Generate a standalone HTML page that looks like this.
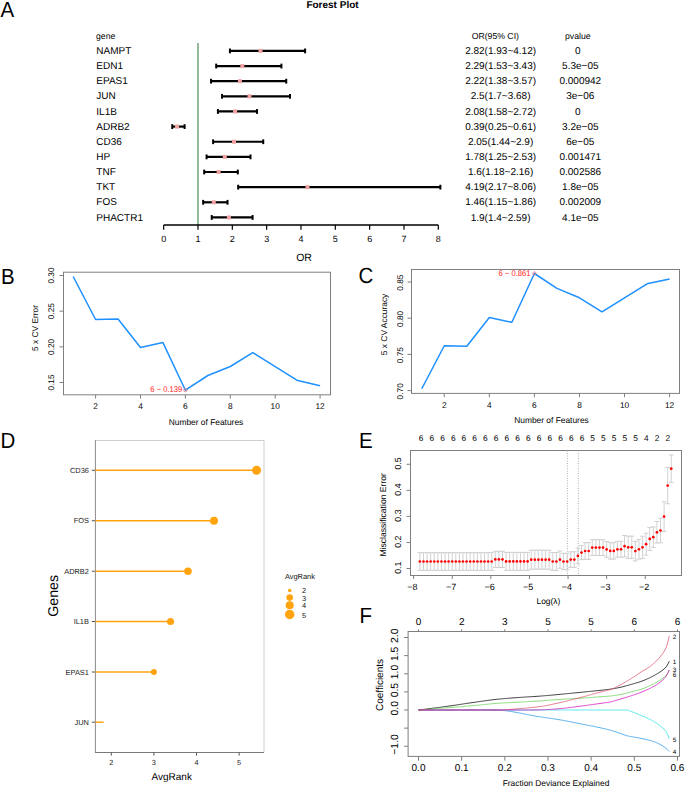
<!DOCTYPE html>
<html><head><meta charset="utf-8"><title>Figure</title>
<style>
html,body{margin:0;padding:0;background:#fff;}
body{width:685px;height:789px;overflow:hidden;}
svg{display:block;font-family:"Liberation Sans", sans-serif;text-rendering:geometricPrecision;}
</style></head>
<body>
<svg width="685" height="789" viewBox="0 0 685 789">
<rect width="685" height="789" fill="#fff"/>
<text transform="translate(0.50 16.90) scale(1 1.07)" font-size="20.5" text-anchor="start" fill="#000">A</text>
<text transform="translate(1.00 283.70) scale(1 1.07)" font-size="20.5" text-anchor="start" fill="#000">B</text>
<text transform="translate(358.50 283.40) scale(1 1.07)" font-size="20.5" text-anchor="start" fill="#000">C</text>
<text transform="translate(0.50 448.00) scale(1 1.07)" font-size="20.5" text-anchor="start" fill="#000">D</text>
<text transform="translate(359.00 447.70) scale(1 1.07)" font-size="20.5" text-anchor="start" fill="#000">E</text>
<text transform="translate(359.50 622.80) scale(1 1.07)" font-size="20.5" text-anchor="start" fill="#000">F</text>
<text x="332.50" y="8.30" font-size="10" text-anchor="middle" fill="#000" font-weight="bold">Forest Plot</text>
<text x="96.00" y="39.30" font-size="8.7" text-anchor="start" fill="#000">gene</text>
<text x="495.30" y="39.30" font-size="8.7" text-anchor="middle" fill="#000">OR(95% CI)</text>
<text x="577.80" y="39.30" font-size="8.7" text-anchor="middle" fill="#000">pvalue</text>
<line x1="198.00" y1="43.00" x2="198.00" y2="225.00" stroke="#80b08a" stroke-width="1.7"/>
<text x="96.30" y="54.00" font-size="10" text-anchor="start" fill="#000">NAMPT</text>
<text x="500.60" y="54.00" font-size="10" text-anchor="middle" fill="#000">2.82(1.93~4.12)</text>
<text x="577.70" y="54.00" font-size="10" text-anchor="middle" fill="#000">0</text>
<line x1="229.93" y1="50.90" x2="305.11" y2="50.90" stroke="#000" stroke-width="2.2"/>
<line x1="229.93" y1="48.50" x2="229.93" y2="53.30" stroke="#000" stroke-width="2.0"/>
<line x1="305.11" y1="48.50" x2="305.11" y2="53.30" stroke="#000" stroke-width="2.0"/>
<rect x="258.48" y="48.90" width="4" height="4" fill="#f0a3a3"/>
<text x="96.30" y="69.14" font-size="10" text-anchor="start" fill="#000">EDN1</text>
<text x="500.60" y="69.14" font-size="10" text-anchor="middle" fill="#000">2.29(1.53~3.43)</text>
<text x="580.30" y="69.14" font-size="10" text-anchor="middle" fill="#000">5.3e−05</text>
<line x1="216.19" y1="66.04" x2="281.42" y2="66.04" stroke="#000" stroke-width="2.2"/>
<line x1="216.19" y1="63.64" x2="216.19" y2="68.44" stroke="#000" stroke-width="2.0"/>
<line x1="281.42" y1="63.64" x2="281.42" y2="68.44" stroke="#000" stroke-width="2.0"/>
<rect x="240.29" y="64.04" width="4" height="4" fill="#f0a3a3"/>
<text x="96.30" y="84.28" font-size="10" text-anchor="start" fill="#000">EPAS1</text>
<text x="500.60" y="84.28" font-size="10" text-anchor="middle" fill="#000">2.22(1.38~3.57)</text>
<text x="580.30" y="84.28" font-size="10" text-anchor="middle" fill="#000">0.000942</text>
<line x1="211.05" y1="81.18" x2="286.23" y2="81.18" stroke="#000" stroke-width="2.2"/>
<line x1="211.05" y1="78.78" x2="211.05" y2="83.58" stroke="#000" stroke-width="2.0"/>
<line x1="286.23" y1="78.78" x2="286.23" y2="83.58" stroke="#000" stroke-width="2.0"/>
<rect x="237.88" y="79.18" width="4" height="4" fill="#f0a3a3"/>
<text x="96.30" y="99.42" font-size="10" text-anchor="start" fill="#000">JUN</text>
<text x="500.60" y="99.42" font-size="10" text-anchor="middle" fill="#000">2.5(1.7~3.68)</text>
<text x="580.30" y="99.42" font-size="10" text-anchor="middle" fill="#000">3e−06</text>
<line x1="222.03" y1="96.32" x2="290.00" y2="96.32" stroke="#000" stroke-width="2.2"/>
<line x1="222.03" y1="93.92" x2="222.03" y2="98.72" stroke="#000" stroke-width="2.0"/>
<line x1="290.00" y1="93.92" x2="290.00" y2="98.72" stroke="#000" stroke-width="2.0"/>
<rect x="247.50" y="94.32" width="4" height="4" fill="#f0a3a3"/>
<text x="96.30" y="114.56" font-size="10" text-anchor="start" fill="#000">IL1B</text>
<text x="500.60" y="114.56" font-size="10" text-anchor="middle" fill="#000">2.08(1.58~2.72)</text>
<text x="577.70" y="114.56" font-size="10" text-anchor="middle" fill="#000">0</text>
<line x1="217.91" y1="111.46" x2="257.05" y2="111.46" stroke="#000" stroke-width="2.2"/>
<line x1="217.91" y1="109.06" x2="217.91" y2="113.86" stroke="#000" stroke-width="2.0"/>
<line x1="257.05" y1="109.06" x2="257.05" y2="113.86" stroke="#000" stroke-width="2.0"/>
<rect x="233.08" y="109.46" width="4" height="4" fill="#f0a3a3"/>
<text x="96.30" y="129.70" font-size="10" text-anchor="start" fill="#000">ADRB2</text>
<text x="500.60" y="129.70" font-size="10" text-anchor="middle" fill="#000">0.39(0.25~0.61)</text>
<text x="580.30" y="129.70" font-size="10" text-anchor="middle" fill="#000">3.2e−05</text>
<line x1="172.25" y1="126.60" x2="184.61" y2="126.60" stroke="#000" stroke-width="2.2"/>
<line x1="172.25" y1="124.20" x2="172.25" y2="129.00" stroke="#000" stroke-width="2.0"/>
<line x1="184.61" y1="124.20" x2="184.61" y2="129.00" stroke="#000" stroke-width="2.0"/>
<rect x="175.06" y="124.60" width="4" height="4" fill="#f0a3a3"/>
<text x="96.30" y="144.84" font-size="10" text-anchor="start" fill="#000">CD36</text>
<text x="500.60" y="144.84" font-size="10" text-anchor="middle" fill="#000">2.05(1.44~2.9)</text>
<text x="580.30" y="144.84" font-size="10" text-anchor="middle" fill="#000">6e−05</text>
<line x1="213.11" y1="141.74" x2="263.23" y2="141.74" stroke="#000" stroke-width="2.2"/>
<line x1="213.11" y1="139.34" x2="213.11" y2="144.14" stroke="#000" stroke-width="2.0"/>
<line x1="263.23" y1="139.34" x2="263.23" y2="144.14" stroke="#000" stroke-width="2.0"/>
<rect x="232.05" y="139.74" width="4" height="4" fill="#f0a3a3"/>
<text x="96.30" y="159.98" font-size="10" text-anchor="start" fill="#000">HP</text>
<text x="500.60" y="159.98" font-size="10" text-anchor="middle" fill="#000">1.78(1.25~2.53)</text>
<text x="580.30" y="159.98" font-size="10" text-anchor="middle" fill="#000">0.001471</text>
<line x1="206.58" y1="156.88" x2="250.52" y2="156.88" stroke="#000" stroke-width="2.2"/>
<line x1="206.58" y1="154.48" x2="206.58" y2="159.28" stroke="#000" stroke-width="2.0"/>
<line x1="250.52" y1="154.48" x2="250.52" y2="159.28" stroke="#000" stroke-width="2.0"/>
<rect x="222.78" y="154.88" width="4" height="4" fill="#f0a3a3"/>
<text x="96.30" y="175.12" font-size="10" text-anchor="start" fill="#000">TNF</text>
<text x="500.60" y="175.12" font-size="10" text-anchor="middle" fill="#000">1.6(1.18~2.16)</text>
<text x="580.30" y="175.12" font-size="10" text-anchor="middle" fill="#000">0.002586</text>
<line x1="204.18" y1="172.02" x2="237.82" y2="172.02" stroke="#000" stroke-width="2.2"/>
<line x1="204.18" y1="169.62" x2="204.18" y2="174.42" stroke="#000" stroke-width="2.0"/>
<line x1="237.82" y1="169.62" x2="237.82" y2="174.42" stroke="#000" stroke-width="2.0"/>
<rect x="216.60" y="170.02" width="4" height="4" fill="#f0a3a3"/>
<text x="96.30" y="190.26" font-size="10" text-anchor="start" fill="#000">TKT</text>
<text x="500.60" y="190.26" font-size="10" text-anchor="middle" fill="#000">4.19(2.17~8.06)</text>
<text x="580.30" y="190.26" font-size="10" text-anchor="middle" fill="#000">1.8e−05</text>
<line x1="238.17" y1="187.16" x2="440.37" y2="187.16" stroke="#000" stroke-width="2.2"/>
<line x1="238.17" y1="184.76" x2="238.17" y2="189.56" stroke="#000" stroke-width="2.0"/>
<line x1="440.37" y1="184.76" x2="440.37" y2="189.56" stroke="#000" stroke-width="2.0"/>
<rect x="305.51" y="185.16" width="4" height="4" fill="#f0a3a3"/>
<text x="96.30" y="205.40" font-size="10" text-anchor="start" fill="#000">FOS</text>
<text x="500.60" y="205.40" font-size="10" text-anchor="middle" fill="#000">1.46(1.15~1.86)</text>
<text x="580.30" y="205.40" font-size="10" text-anchor="middle" fill="#000">0.002009</text>
<line x1="203.15" y1="202.30" x2="227.52" y2="202.30" stroke="#000" stroke-width="2.2"/>
<line x1="203.15" y1="199.90" x2="203.15" y2="204.70" stroke="#000" stroke-width="2.0"/>
<line x1="227.52" y1="199.90" x2="227.52" y2="204.70" stroke="#000" stroke-width="2.0"/>
<rect x="211.79" y="200.30" width="4" height="4" fill="#f0a3a3"/>
<text x="96.30" y="220.54" font-size="10" text-anchor="start" fill="#000">PHACTR1</text>
<text x="500.60" y="220.54" font-size="10" text-anchor="middle" fill="#000">1.9(1.4~2.59)</text>
<text x="580.30" y="220.54" font-size="10" text-anchor="middle" fill="#000">4.1e−05</text>
<line x1="211.73" y1="217.44" x2="252.58" y2="217.44" stroke="#000" stroke-width="2.2"/>
<line x1="211.73" y1="215.04" x2="211.73" y2="219.84" stroke="#000" stroke-width="2.0"/>
<line x1="252.58" y1="215.04" x2="252.58" y2="219.84" stroke="#000" stroke-width="2.0"/>
<rect x="226.90" y="215.44" width="4" height="4" fill="#f0a3a3"/>
<line x1="163.67" y1="225.00" x2="438.31" y2="225.00" stroke="#000" stroke-width="1.3"/>
<line x1="163.67" y1="225.00" x2="163.67" y2="229.80" stroke="#000" stroke-width="1.2"/>
<text x="163.67" y="242.20" font-size="9" text-anchor="middle" fill="#000">0</text>
<line x1="198.00" y1="225.00" x2="198.00" y2="229.80" stroke="#000" stroke-width="1.2"/>
<text x="198.00" y="242.20" font-size="9" text-anchor="middle" fill="#000">1</text>
<line x1="232.33" y1="225.00" x2="232.33" y2="229.80" stroke="#000" stroke-width="1.2"/>
<text x="232.33" y="242.20" font-size="9" text-anchor="middle" fill="#000">2</text>
<line x1="266.66" y1="225.00" x2="266.66" y2="229.80" stroke="#000" stroke-width="1.2"/>
<text x="266.66" y="242.20" font-size="9" text-anchor="middle" fill="#000">3</text>
<line x1="300.99" y1="225.00" x2="300.99" y2="229.80" stroke="#000" stroke-width="1.2"/>
<text x="300.99" y="242.20" font-size="9" text-anchor="middle" fill="#000">4</text>
<line x1="335.32" y1="225.00" x2="335.32" y2="229.80" stroke="#000" stroke-width="1.2"/>
<text x="335.32" y="242.20" font-size="9" text-anchor="middle" fill="#000">5</text>
<line x1="369.65" y1="225.00" x2="369.65" y2="229.80" stroke="#000" stroke-width="1.2"/>
<text x="369.65" y="242.20" font-size="9" text-anchor="middle" fill="#000">6</text>
<line x1="403.98" y1="225.00" x2="403.98" y2="229.80" stroke="#000" stroke-width="1.2"/>
<text x="403.98" y="242.20" font-size="9" text-anchor="middle" fill="#000">7</text>
<line x1="438.31" y1="225.00" x2="438.31" y2="229.80" stroke="#000" stroke-width="1.2"/>
<text x="438.31" y="242.20" font-size="9" text-anchor="middle" fill="#000">8</text>
<text x="304.00" y="261.30" font-size="10.5" text-anchor="middle" fill="#000">OR</text>
<rect x="63.50" y="272.20" width="267.00" height="122.60" fill="none" stroke="#7f7f7f" stroke-width="1"/>
<line x1="59.50" y1="275.50" x2="63.50" y2="275.50" stroke="#7f7f7f" stroke-width="1"/>
<text x="54.30" y="275.50" font-size="8.3" text-anchor="middle" fill="#000" transform="rotate(-90 54.30 275.50)">0.30</text>
<line x1="59.50" y1="311.17" x2="63.50" y2="311.17" stroke="#7f7f7f" stroke-width="1"/>
<text x="54.30" y="311.17" font-size="8.3" text-anchor="middle" fill="#000" transform="rotate(-90 54.30 311.17)">0.25</text>
<line x1="59.50" y1="346.84" x2="63.50" y2="346.84" stroke="#7f7f7f" stroke-width="1"/>
<text x="54.30" y="346.84" font-size="8.3" text-anchor="middle" fill="#000" transform="rotate(-90 54.30 346.84)">0.20</text>
<line x1="59.50" y1="382.51" x2="63.50" y2="382.51" stroke="#7f7f7f" stroke-width="1"/>
<text x="54.30" y="382.51" font-size="8.3" text-anchor="middle" fill="#000" transform="rotate(-90 54.30 382.51)">0.15</text>
<line x1="95.60" y1="394.80" x2="95.60" y2="398.60" stroke="#7f7f7f" stroke-width="1"/>
<text x="95.60" y="409.20" font-size="8.3" text-anchor="middle" fill="#000">2</text>
<line x1="140.50" y1="394.80" x2="140.50" y2="398.60" stroke="#7f7f7f" stroke-width="1"/>
<text x="140.50" y="409.20" font-size="8.3" text-anchor="middle" fill="#000">4</text>
<line x1="185.40" y1="394.80" x2="185.40" y2="398.60" stroke="#7f7f7f" stroke-width="1"/>
<text x="185.40" y="409.20" font-size="8.3" text-anchor="middle" fill="#000">6</text>
<line x1="230.30" y1="394.80" x2="230.30" y2="398.60" stroke="#7f7f7f" stroke-width="1"/>
<text x="230.30" y="409.20" font-size="8.3" text-anchor="middle" fill="#000">8</text>
<line x1="275.20" y1="394.80" x2="275.20" y2="398.60" stroke="#7f7f7f" stroke-width="1"/>
<text x="275.20" y="409.20" font-size="8.3" text-anchor="middle" fill="#000">10</text>
<line x1="320.10" y1="394.80" x2="320.10" y2="398.60" stroke="#7f7f7f" stroke-width="1"/>
<text x="320.10" y="409.20" font-size="8.3" text-anchor="middle" fill="#000">12</text>
<text x="38.20" y="328.00" font-size="8.4" text-anchor="middle" fill="#000" transform="rotate(-90 38.20 328.00)">5 x CV Error</text>
<text x="206.00" y="425.20" font-size="8.4" text-anchor="middle" fill="#000">Number of Features</text>
<polyline points="73.15,276.50 95.60,319.50 118.05,319.00 140.50,347.50 162.95,342.60 185.40,390.20 207.85,375.50 230.30,366.50 252.75,352.70 275.20,366.60 297.65,380.60 320.10,385.70" fill="none" stroke="#1E90FF" stroke-width="1.5" stroke-linejoin="round"/>
<circle cx="185.40" cy="390.2" r="1.6" fill="none" stroke="#f07070" stroke-width="0.8"/>
<text transform="translate(182.20 392.30) scale(1 1.1)" font-size="7.6" text-anchor="end" fill="#ff2020">6 − 0.139</text>
<rect x="411.50" y="269.50" width="268.00" height="123.90" fill="none" stroke="#7f7f7f" stroke-width="1"/>
<line x1="407.50" y1="282.00" x2="411.50" y2="282.00" stroke="#7f7f7f" stroke-width="1"/>
<text x="402.80" y="282.70" font-size="8.3" text-anchor="middle" fill="#000" transform="rotate(-90 402.80 282.70)">0.85</text>
<line x1="407.50" y1="318.20" x2="411.50" y2="318.20" stroke="#7f7f7f" stroke-width="1"/>
<text x="402.80" y="318.90" font-size="8.3" text-anchor="middle" fill="#000" transform="rotate(-90 402.80 318.90)">0.80</text>
<line x1="407.50" y1="354.40" x2="411.50" y2="354.40" stroke="#7f7f7f" stroke-width="1"/>
<text x="402.80" y="355.10" font-size="8.3" text-anchor="middle" fill="#000" transform="rotate(-90 402.80 355.10)">0.75</text>
<line x1="407.50" y1="390.60" x2="411.50" y2="390.60" stroke="#7f7f7f" stroke-width="1"/>
<text x="402.80" y="391.30" font-size="8.3" text-anchor="middle" fill="#000" transform="rotate(-90 402.80 391.30)">0.70</text>
<line x1="444.28" y1="393.40" x2="444.28" y2="397.20" stroke="#7f7f7f" stroke-width="1"/>
<text x="444.28" y="408.00" font-size="8.3" text-anchor="middle" fill="#000">2</text>
<line x1="489.34" y1="393.40" x2="489.34" y2="397.20" stroke="#7f7f7f" stroke-width="1"/>
<text x="489.34" y="408.00" font-size="8.3" text-anchor="middle" fill="#000">4</text>
<line x1="534.40" y1="393.40" x2="534.40" y2="397.20" stroke="#7f7f7f" stroke-width="1"/>
<text x="534.40" y="408.00" font-size="8.3" text-anchor="middle" fill="#000">6</text>
<line x1="579.46" y1="393.40" x2="579.46" y2="397.20" stroke="#7f7f7f" stroke-width="1"/>
<text x="579.46" y="408.00" font-size="8.3" text-anchor="middle" fill="#000">8</text>
<line x1="624.52" y1="393.40" x2="624.52" y2="397.20" stroke="#7f7f7f" stroke-width="1"/>
<text x="624.52" y="408.00" font-size="8.3" text-anchor="middle" fill="#000">10</text>
<line x1="669.58" y1="393.40" x2="669.58" y2="397.20" stroke="#7f7f7f" stroke-width="1"/>
<text x="669.58" y="408.00" font-size="8.3" text-anchor="middle" fill="#000">12</text>
<text x="387.40" y="324.40" font-size="8.4" text-anchor="middle" fill="#000" transform="rotate(-90 387.40 324.40)">5 x CV Accuracy</text>
<text x="551.50" y="423.40" font-size="8.4" text-anchor="middle" fill="#000">Number of Features</text>
<polyline points="421.75,388.75 444.28,345.75 466.81,346.25 489.34,317.50 511.87,322.30 534.40,273.50 556.93,288.40 579.46,297.80 601.99,311.80 624.52,297.80 647.05,283.80 669.58,278.90" fill="none" stroke="#1E90FF" stroke-width="1.5" stroke-linejoin="round"/>
<circle cx="534.40" cy="273.5" r="1.6" fill="none" stroke="#f07070" stroke-width="0.8"/>
<text transform="translate(530.50 276.30) scale(1 1.1)" font-size="7.6" text-anchor="end" fill="#ff2020">6 − 0.861</text>
<line x1="95.40" y1="440.50" x2="264.00" y2="440.50" stroke="#cfcfcf" stroke-width="1"/>
<line x1="264.00" y1="440.50" x2="264.00" y2="752.50" stroke="#d0d0d0" stroke-width="1"/>
<line x1="95.40" y1="440.00" x2="95.40" y2="752.50" stroke="#8a8a8a" stroke-width="1"/>
<line x1="95.00" y1="752.50" x2="264.00" y2="752.50" stroke="#7a7a7a" stroke-width="1"/>
<line x1="91.80" y1="470.25" x2="95.40" y2="470.25" stroke="#555" stroke-width="1"/>
<text x="88.90" y="472.85" font-size="7.4" text-anchor="end" fill="#222">CD36</text>
<line x1="95.40" y1="470.25" x2="256.57" y2="470.25" stroke="#ffa40f" stroke-width="1.5"/>
<circle cx="256.57" cy="470.25" r="4.5" fill="#ffa40f"/>
<line x1="91.80" y1="520.75" x2="95.40" y2="520.75" stroke="#555" stroke-width="1"/>
<text x="88.90" y="523.35" font-size="7.4" text-anchor="end" fill="#222">FOS</text>
<line x1="95.40" y1="520.75" x2="213.97" y2="520.75" stroke="#ffa40f" stroke-width="1.5"/>
<circle cx="213.97" cy="520.75" r="4.0" fill="#ffa40f"/>
<line x1="91.80" y1="571.25" x2="95.40" y2="571.25" stroke="#555" stroke-width="1"/>
<text x="88.90" y="573.85" font-size="7.4" text-anchor="end" fill="#222">ADRB2</text>
<line x1="95.40" y1="571.25" x2="187.98" y2="571.25" stroke="#ffa40f" stroke-width="1.5"/>
<circle cx="187.98" cy="571.25" r="3.75" fill="#ffa40f"/>
<line x1="91.80" y1="621.50" x2="95.40" y2="621.50" stroke="#555" stroke-width="1"/>
<text x="88.90" y="624.10" font-size="7.4" text-anchor="end" fill="#222">IL1B</text>
<line x1="95.40" y1="621.50" x2="170.51" y2="621.50" stroke="#ffa40f" stroke-width="1.5"/>
<circle cx="170.51" cy="621.50" r="3.55" fill="#ffa40f"/>
<line x1="91.80" y1="672.00" x2="95.40" y2="672.00" stroke="#555" stroke-width="1"/>
<text x="88.90" y="674.60" font-size="7.4" text-anchor="end" fill="#222">EPAS1</text>
<line x1="95.40" y1="672.00" x2="153.90" y2="672.00" stroke="#ffa40f" stroke-width="1.5"/>
<circle cx="153.90" cy="672.00" r="3.0" fill="#ffa40f"/>
<line x1="91.80" y1="722.20" x2="95.40" y2="722.20" stroke="#555" stroke-width="1"/>
<text x="88.90" y="724.80" font-size="7.4" text-anchor="end" fill="#222">JUN</text>
<line x1="95.40" y1="722.20" x2="103.63" y2="722.20" stroke="#ffa40f" stroke-width="1.5"/>
<line x1="111.30" y1="752.50" x2="111.30" y2="755.60" stroke="#555" stroke-width="1"/>
<text x="111.30" y="765.30" font-size="7.4" text-anchor="middle" fill="#222">2</text>
<line x1="153.90" y1="752.50" x2="153.90" y2="755.60" stroke="#555" stroke-width="1"/>
<text x="153.90" y="765.30" font-size="7.4" text-anchor="middle" fill="#222">3</text>
<line x1="196.50" y1="752.50" x2="196.50" y2="755.60" stroke="#555" stroke-width="1"/>
<text x="196.50" y="765.30" font-size="7.4" text-anchor="middle" fill="#222">4</text>
<line x1="239.10" y1="752.50" x2="239.10" y2="755.60" stroke="#555" stroke-width="1"/>
<text x="239.10" y="765.30" font-size="7.4" text-anchor="middle" fill="#222">5</text>
<text x="171.70" y="779.90" font-size="10" text-anchor="middle" fill="#000">AvgRank</text>
<text x="57.80" y="595.80" font-size="14.2" text-anchor="middle" fill="#000" transform="rotate(-90 57.80 595.80)">Genes</text>
<text x="284.90" y="579.00" font-size="7.45" text-anchor="start" fill="#111">AvgRank</text>
<circle cx="289.7" cy="590.4" r="1.75" fill="#ffa40f"/>
<text x="302.00" y="593.00" font-size="7.4" text-anchor="start" fill="#111">2</text>
<circle cx="289.7" cy="597.6" r="3.3" fill="#ffa40f"/>
<text x="302.00" y="600.50" font-size="7.4" text-anchor="start" fill="#111">3</text>
<circle cx="289.7" cy="605.3" r="4.03" fill="#ffa40f"/>
<text x="302.00" y="607.90" font-size="7.4" text-anchor="start" fill="#111">4</text>
<circle cx="289.7" cy="614.5" r="4.73" fill="#ffa40f"/>
<text x="302.00" y="617.60" font-size="7.4" text-anchor="start" fill="#111">5</text>
<rect x="410.50" y="450.50" width="271.00" height="125.00" fill="none" stroke="#7f7f7f" stroke-width="1"/>
<line x1="406.50" y1="568.50" x2="410.50" y2="568.50" stroke="#7f7f7f" stroke-width="1"/>
<text x="401.40" y="567.70" font-size="8.8" text-anchor="middle" fill="#000" transform="rotate(-90 401.40 567.70)">0.1</text>
<line x1="406.50" y1="542.44" x2="410.50" y2="542.44" stroke="#7f7f7f" stroke-width="1"/>
<text x="401.40" y="541.64" font-size="8.8" text-anchor="middle" fill="#000" transform="rotate(-90 401.40 541.64)">0.2</text>
<line x1="406.50" y1="516.38" x2="410.50" y2="516.38" stroke="#7f7f7f" stroke-width="1"/>
<text x="401.40" y="515.58" font-size="8.8" text-anchor="middle" fill="#000" transform="rotate(-90 401.40 515.58)">0.3</text>
<line x1="406.50" y1="490.32" x2="410.50" y2="490.32" stroke="#7f7f7f" stroke-width="1"/>
<text x="401.40" y="489.52" font-size="8.8" text-anchor="middle" fill="#000" transform="rotate(-90 401.40 489.52)">0.4</text>
<line x1="406.50" y1="464.26" x2="410.50" y2="464.26" stroke="#7f7f7f" stroke-width="1"/>
<text x="401.40" y="463.46" font-size="8.8" text-anchor="middle" fill="#000" transform="rotate(-90 401.40 463.46)">0.5</text>
<line x1="413.65" y1="575.50" x2="413.65" y2="579.00" stroke="#7f7f7f" stroke-width="1"/>
<text x="412.45" y="589.70" font-size="9.0" text-anchor="middle" fill="#000">−8</text>
<line x1="452.25" y1="575.50" x2="452.25" y2="579.00" stroke="#7f7f7f" stroke-width="1"/>
<text x="451.05" y="589.70" font-size="9.0" text-anchor="middle" fill="#000">−7</text>
<line x1="490.85" y1="575.50" x2="490.85" y2="579.00" stroke="#7f7f7f" stroke-width="1"/>
<text x="489.65" y="589.70" font-size="9.0" text-anchor="middle" fill="#000">−6</text>
<line x1="529.45" y1="575.50" x2="529.45" y2="579.00" stroke="#7f7f7f" stroke-width="1"/>
<text x="528.25" y="589.70" font-size="9.0" text-anchor="middle" fill="#000">−5</text>
<line x1="568.05" y1="575.50" x2="568.05" y2="579.00" stroke="#7f7f7f" stroke-width="1"/>
<text x="566.85" y="589.70" font-size="9.0" text-anchor="middle" fill="#000">−4</text>
<line x1="606.65" y1="575.50" x2="606.65" y2="579.00" stroke="#7f7f7f" stroke-width="1"/>
<text x="605.45" y="589.70" font-size="9.0" text-anchor="middle" fill="#000">−3</text>
<line x1="645.25" y1="575.50" x2="645.25" y2="579.00" stroke="#7f7f7f" stroke-width="1"/>
<text x="644.05" y="589.70" font-size="9.0" text-anchor="middle" fill="#000">−2</text>
<text x="385.60" y="514.80" font-size="8.6" text-anchor="middle" fill="#000" transform="rotate(-90 385.60 514.80)">Misclassification Error</text>
<text x="548.40" y="604.40" font-size="8.4" text-anchor="middle" fill="#000">Log(λ)</text>
<text x="421.00" y="441.30" font-size="8.3" text-anchor="middle" fill="#000">6</text>
<text x="431.73" y="441.30" font-size="8.3" text-anchor="middle" fill="#000">6</text>
<text x="442.46" y="441.30" font-size="8.3" text-anchor="middle" fill="#000">6</text>
<text x="453.19" y="441.30" font-size="8.3" text-anchor="middle" fill="#000">6</text>
<text x="463.92" y="441.30" font-size="8.3" text-anchor="middle" fill="#000">6</text>
<text x="474.65" y="441.30" font-size="8.3" text-anchor="middle" fill="#000">6</text>
<text x="485.38" y="441.30" font-size="8.3" text-anchor="middle" fill="#000">6</text>
<text x="496.11" y="441.30" font-size="8.3" text-anchor="middle" fill="#000">6</text>
<text x="506.84" y="441.30" font-size="8.3" text-anchor="middle" fill="#000">6</text>
<text x="517.57" y="441.30" font-size="8.3" text-anchor="middle" fill="#000">6</text>
<text x="528.30" y="441.30" font-size="8.3" text-anchor="middle" fill="#000">6</text>
<text x="539.03" y="441.30" font-size="8.3" text-anchor="middle" fill="#000">6</text>
<text x="549.76" y="441.30" font-size="8.3" text-anchor="middle" fill="#000">6</text>
<text x="560.49" y="441.30" font-size="8.3" text-anchor="middle" fill="#000">6</text>
<text x="571.22" y="441.30" font-size="8.3" text-anchor="middle" fill="#000">6</text>
<text x="581.95" y="441.30" font-size="8.3" text-anchor="middle" fill="#000">6</text>
<text x="592.68" y="441.30" font-size="8.3" text-anchor="middle" fill="#000">5</text>
<text x="603.41" y="441.30" font-size="8.3" text-anchor="middle" fill="#000">5</text>
<text x="614.14" y="441.30" font-size="8.3" text-anchor="middle" fill="#000">5</text>
<text x="624.87" y="441.30" font-size="8.3" text-anchor="middle" fill="#000">5</text>
<text x="635.60" y="441.30" font-size="8.3" text-anchor="middle" fill="#000">5</text>
<text x="646.33" y="441.30" font-size="8.3" text-anchor="middle" fill="#000">4</text>
<text x="657.06" y="441.30" font-size="8.3" text-anchor="middle" fill="#000">2</text>
<text x="667.79" y="441.30" font-size="8.3" text-anchor="middle" fill="#000">2</text>
<line x1="567.40" y1="450.50" x2="567.40" y2="575.50" stroke="#999" stroke-width="0.8" stroke-dasharray="1,1.5"/>
<line x1="578.30" y1="450.50" x2="578.30" y2="575.50" stroke="#999" stroke-width="0.8" stroke-dasharray="1,1.5"/>
<line x1="419.90" y1="552.65" x2="419.90" y2="570.35" stroke="#cccccc" stroke-width="0.9"/>
<line x1="417.50" y1="552.65" x2="422.30" y2="552.65" stroke="#cccccc" stroke-width="0.9"/>
<line x1="417.50" y1="570.35" x2="422.30" y2="570.35" stroke="#cccccc" stroke-width="0.9"/>
<line x1="423.49" y1="552.65" x2="423.49" y2="570.35" stroke="#cccccc" stroke-width="0.9"/>
<line x1="421.09" y1="552.65" x2="425.89" y2="552.65" stroke="#cccccc" stroke-width="0.9"/>
<line x1="421.09" y1="570.35" x2="425.89" y2="570.35" stroke="#cccccc" stroke-width="0.9"/>
<line x1="427.08" y1="552.65" x2="427.08" y2="570.35" stroke="#cccccc" stroke-width="0.9"/>
<line x1="424.68" y1="552.65" x2="429.48" y2="552.65" stroke="#cccccc" stroke-width="0.9"/>
<line x1="424.68" y1="570.35" x2="429.48" y2="570.35" stroke="#cccccc" stroke-width="0.9"/>
<line x1="430.67" y1="552.65" x2="430.67" y2="570.35" stroke="#cccccc" stroke-width="0.9"/>
<line x1="428.27" y1="552.65" x2="433.07" y2="552.65" stroke="#cccccc" stroke-width="0.9"/>
<line x1="428.27" y1="570.35" x2="433.07" y2="570.35" stroke="#cccccc" stroke-width="0.9"/>
<line x1="434.26" y1="552.65" x2="434.26" y2="570.35" stroke="#cccccc" stroke-width="0.9"/>
<line x1="431.86" y1="552.65" x2="436.66" y2="552.65" stroke="#cccccc" stroke-width="0.9"/>
<line x1="431.86" y1="570.35" x2="436.66" y2="570.35" stroke="#cccccc" stroke-width="0.9"/>
<line x1="437.85" y1="552.65" x2="437.85" y2="570.35" stroke="#cccccc" stroke-width="0.9"/>
<line x1="435.45" y1="552.65" x2="440.25" y2="552.65" stroke="#cccccc" stroke-width="0.9"/>
<line x1="435.45" y1="570.35" x2="440.25" y2="570.35" stroke="#cccccc" stroke-width="0.9"/>
<line x1="441.45" y1="552.65" x2="441.45" y2="570.35" stroke="#cccccc" stroke-width="0.9"/>
<line x1="439.05" y1="552.65" x2="443.85" y2="552.65" stroke="#cccccc" stroke-width="0.9"/>
<line x1="439.05" y1="570.35" x2="443.85" y2="570.35" stroke="#cccccc" stroke-width="0.9"/>
<line x1="445.04" y1="552.65" x2="445.04" y2="570.35" stroke="#cccccc" stroke-width="0.9"/>
<line x1="442.64" y1="552.65" x2="447.44" y2="552.65" stroke="#cccccc" stroke-width="0.9"/>
<line x1="442.64" y1="570.35" x2="447.44" y2="570.35" stroke="#cccccc" stroke-width="0.9"/>
<line x1="448.63" y1="552.65" x2="448.63" y2="570.35" stroke="#cccccc" stroke-width="0.9"/>
<line x1="446.23" y1="552.65" x2="451.03" y2="552.65" stroke="#cccccc" stroke-width="0.9"/>
<line x1="446.23" y1="570.35" x2="451.03" y2="570.35" stroke="#cccccc" stroke-width="0.9"/>
<line x1="452.22" y1="552.65" x2="452.22" y2="570.35" stroke="#cccccc" stroke-width="0.9"/>
<line x1="449.82" y1="552.65" x2="454.62" y2="552.65" stroke="#cccccc" stroke-width="0.9"/>
<line x1="449.82" y1="570.35" x2="454.62" y2="570.35" stroke="#cccccc" stroke-width="0.9"/>
<line x1="455.81" y1="552.65" x2="455.81" y2="570.35" stroke="#cccccc" stroke-width="0.9"/>
<line x1="453.41" y1="552.65" x2="458.21" y2="552.65" stroke="#cccccc" stroke-width="0.9"/>
<line x1="453.41" y1="570.35" x2="458.21" y2="570.35" stroke="#cccccc" stroke-width="0.9"/>
<line x1="459.40" y1="552.65" x2="459.40" y2="570.35" stroke="#cccccc" stroke-width="0.9"/>
<line x1="457.00" y1="552.65" x2="461.80" y2="552.65" stroke="#cccccc" stroke-width="0.9"/>
<line x1="457.00" y1="570.35" x2="461.80" y2="570.35" stroke="#cccccc" stroke-width="0.9"/>
<line x1="462.99" y1="552.65" x2="462.99" y2="570.35" stroke="#cccccc" stroke-width="0.9"/>
<line x1="460.59" y1="552.65" x2="465.39" y2="552.65" stroke="#cccccc" stroke-width="0.9"/>
<line x1="460.59" y1="570.35" x2="465.39" y2="570.35" stroke="#cccccc" stroke-width="0.9"/>
<line x1="466.58" y1="552.65" x2="466.58" y2="570.35" stroke="#cccccc" stroke-width="0.9"/>
<line x1="464.18" y1="552.65" x2="468.98" y2="552.65" stroke="#cccccc" stroke-width="0.9"/>
<line x1="464.18" y1="570.35" x2="468.98" y2="570.35" stroke="#cccccc" stroke-width="0.9"/>
<line x1="470.17" y1="552.65" x2="470.17" y2="570.35" stroke="#cccccc" stroke-width="0.9"/>
<line x1="467.77" y1="552.65" x2="472.57" y2="552.65" stroke="#cccccc" stroke-width="0.9"/>
<line x1="467.77" y1="570.35" x2="472.57" y2="570.35" stroke="#cccccc" stroke-width="0.9"/>
<line x1="473.76" y1="552.65" x2="473.76" y2="570.35" stroke="#cccccc" stroke-width="0.9"/>
<line x1="471.37" y1="552.65" x2="476.16" y2="552.65" stroke="#cccccc" stroke-width="0.9"/>
<line x1="471.37" y1="570.35" x2="476.16" y2="570.35" stroke="#cccccc" stroke-width="0.9"/>
<line x1="477.36" y1="552.65" x2="477.36" y2="570.35" stroke="#cccccc" stroke-width="0.9"/>
<line x1="474.96" y1="552.65" x2="479.76" y2="552.65" stroke="#cccccc" stroke-width="0.9"/>
<line x1="474.96" y1="570.35" x2="479.76" y2="570.35" stroke="#cccccc" stroke-width="0.9"/>
<line x1="480.95" y1="552.65" x2="480.95" y2="570.35" stroke="#cccccc" stroke-width="0.9"/>
<line x1="478.55" y1="552.65" x2="483.35" y2="552.65" stroke="#cccccc" stroke-width="0.9"/>
<line x1="478.55" y1="570.35" x2="483.35" y2="570.35" stroke="#cccccc" stroke-width="0.9"/>
<line x1="484.54" y1="552.65" x2="484.54" y2="570.35" stroke="#cccccc" stroke-width="0.9"/>
<line x1="482.14" y1="552.65" x2="486.94" y2="552.65" stroke="#cccccc" stroke-width="0.9"/>
<line x1="482.14" y1="570.35" x2="486.94" y2="570.35" stroke="#cccccc" stroke-width="0.9"/>
<line x1="488.13" y1="552.65" x2="488.13" y2="570.35" stroke="#cccccc" stroke-width="0.9"/>
<line x1="485.73" y1="552.65" x2="490.53" y2="552.65" stroke="#cccccc" stroke-width="0.9"/>
<line x1="485.73" y1="570.35" x2="490.53" y2="570.35" stroke="#cccccc" stroke-width="0.9"/>
<line x1="491.72" y1="552.65" x2="491.72" y2="570.35" stroke="#cccccc" stroke-width="0.9"/>
<line x1="489.32" y1="552.65" x2="494.12" y2="552.65" stroke="#cccccc" stroke-width="0.9"/>
<line x1="489.32" y1="570.35" x2="494.12" y2="570.35" stroke="#cccccc" stroke-width="0.9"/>
<line x1="495.31" y1="551.30" x2="495.31" y2="567.50" stroke="#cccccc" stroke-width="0.9"/>
<line x1="492.91" y1="551.30" x2="497.71" y2="551.30" stroke="#cccccc" stroke-width="0.9"/>
<line x1="492.91" y1="567.50" x2="497.71" y2="567.50" stroke="#cccccc" stroke-width="0.9"/>
<line x1="498.90" y1="551.30" x2="498.90" y2="567.50" stroke="#cccccc" stroke-width="0.9"/>
<line x1="496.50" y1="551.30" x2="501.30" y2="551.30" stroke="#cccccc" stroke-width="0.9"/>
<line x1="496.50" y1="567.50" x2="501.30" y2="567.50" stroke="#cccccc" stroke-width="0.9"/>
<line x1="502.49" y1="551.30" x2="502.49" y2="567.50" stroke="#cccccc" stroke-width="0.9"/>
<line x1="500.09" y1="551.30" x2="504.89" y2="551.30" stroke="#cccccc" stroke-width="0.9"/>
<line x1="500.09" y1="567.50" x2="504.89" y2="567.50" stroke="#cccccc" stroke-width="0.9"/>
<line x1="506.08" y1="552.40" x2="506.08" y2="570.40" stroke="#cccccc" stroke-width="0.9"/>
<line x1="503.68" y1="552.40" x2="508.48" y2="552.40" stroke="#cccccc" stroke-width="0.9"/>
<line x1="503.68" y1="570.40" x2="508.48" y2="570.40" stroke="#cccccc" stroke-width="0.9"/>
<line x1="509.67" y1="552.40" x2="509.67" y2="570.40" stroke="#cccccc" stroke-width="0.9"/>
<line x1="507.27" y1="552.40" x2="512.07" y2="552.40" stroke="#cccccc" stroke-width="0.9"/>
<line x1="507.27" y1="570.40" x2="512.07" y2="570.40" stroke="#cccccc" stroke-width="0.9"/>
<line x1="513.27" y1="552.40" x2="513.27" y2="570.40" stroke="#cccccc" stroke-width="0.9"/>
<line x1="510.87" y1="552.40" x2="515.67" y2="552.40" stroke="#cccccc" stroke-width="0.9"/>
<line x1="510.87" y1="570.40" x2="515.67" y2="570.40" stroke="#cccccc" stroke-width="0.9"/>
<line x1="516.86" y1="552.40" x2="516.86" y2="570.40" stroke="#cccccc" stroke-width="0.9"/>
<line x1="514.46" y1="552.40" x2="519.26" y2="552.40" stroke="#cccccc" stroke-width="0.9"/>
<line x1="514.46" y1="570.40" x2="519.26" y2="570.40" stroke="#cccccc" stroke-width="0.9"/>
<line x1="520.45" y1="552.40" x2="520.45" y2="570.40" stroke="#cccccc" stroke-width="0.9"/>
<line x1="518.05" y1="552.40" x2="522.85" y2="552.40" stroke="#cccccc" stroke-width="0.9"/>
<line x1="518.05" y1="570.40" x2="522.85" y2="570.40" stroke="#cccccc" stroke-width="0.9"/>
<line x1="524.04" y1="552.40" x2="524.04" y2="570.40" stroke="#cccccc" stroke-width="0.9"/>
<line x1="521.64" y1="552.40" x2="526.44" y2="552.40" stroke="#cccccc" stroke-width="0.9"/>
<line x1="521.64" y1="570.40" x2="526.44" y2="570.40" stroke="#cccccc" stroke-width="0.9"/>
<line x1="527.63" y1="552.40" x2="527.63" y2="570.40" stroke="#cccccc" stroke-width="0.9"/>
<line x1="525.23" y1="552.40" x2="530.03" y2="552.40" stroke="#cccccc" stroke-width="0.9"/>
<line x1="525.23" y1="570.40" x2="530.03" y2="570.40" stroke="#cccccc" stroke-width="0.9"/>
<line x1="531.22" y1="550.20" x2="531.22" y2="569.20" stroke="#cccccc" stroke-width="0.9"/>
<line x1="528.82" y1="550.20" x2="533.62" y2="550.20" stroke="#cccccc" stroke-width="0.9"/>
<line x1="528.82" y1="569.20" x2="533.62" y2="569.20" stroke="#cccccc" stroke-width="0.9"/>
<line x1="534.81" y1="550.20" x2="534.81" y2="569.20" stroke="#cccccc" stroke-width="0.9"/>
<line x1="532.41" y1="550.20" x2="537.21" y2="550.20" stroke="#cccccc" stroke-width="0.9"/>
<line x1="532.41" y1="569.20" x2="537.21" y2="569.20" stroke="#cccccc" stroke-width="0.9"/>
<line x1="538.40" y1="550.20" x2="538.40" y2="569.20" stroke="#cccccc" stroke-width="0.9"/>
<line x1="536.00" y1="550.20" x2="540.80" y2="550.20" stroke="#cccccc" stroke-width="0.9"/>
<line x1="536.00" y1="569.20" x2="540.80" y2="569.20" stroke="#cccccc" stroke-width="0.9"/>
<line x1="541.99" y1="550.20" x2="541.99" y2="569.20" stroke="#cccccc" stroke-width="0.9"/>
<line x1="539.59" y1="550.20" x2="544.39" y2="550.20" stroke="#cccccc" stroke-width="0.9"/>
<line x1="539.59" y1="569.20" x2="544.39" y2="569.20" stroke="#cccccc" stroke-width="0.9"/>
<line x1="545.59" y1="550.20" x2="545.59" y2="569.20" stroke="#cccccc" stroke-width="0.9"/>
<line x1="543.19" y1="550.20" x2="547.99" y2="550.20" stroke="#cccccc" stroke-width="0.9"/>
<line x1="543.19" y1="569.20" x2="547.99" y2="569.20" stroke="#cccccc" stroke-width="0.9"/>
<line x1="549.18" y1="550.20" x2="549.18" y2="569.20" stroke="#cccccc" stroke-width="0.9"/>
<line x1="546.78" y1="550.20" x2="551.58" y2="550.20" stroke="#cccccc" stroke-width="0.9"/>
<line x1="546.78" y1="569.20" x2="551.58" y2="569.20" stroke="#cccccc" stroke-width="0.9"/>
<line x1="552.77" y1="552.50" x2="552.77" y2="570.50" stroke="#cccccc" stroke-width="0.9"/>
<line x1="550.37" y1="552.50" x2="555.17" y2="552.50" stroke="#cccccc" stroke-width="0.9"/>
<line x1="550.37" y1="570.50" x2="555.17" y2="570.50" stroke="#cccccc" stroke-width="0.9"/>
<line x1="556.36" y1="552.50" x2="556.36" y2="570.50" stroke="#cccccc" stroke-width="0.9"/>
<line x1="553.96" y1="552.50" x2="558.76" y2="552.50" stroke="#cccccc" stroke-width="0.9"/>
<line x1="553.96" y1="570.50" x2="558.76" y2="570.50" stroke="#cccccc" stroke-width="0.9"/>
<line x1="559.95" y1="551.10" x2="559.95" y2="568.30" stroke="#cccccc" stroke-width="0.9"/>
<line x1="557.55" y1="551.10" x2="562.35" y2="551.10" stroke="#cccccc" stroke-width="0.9"/>
<line x1="557.55" y1="568.30" x2="562.35" y2="568.30" stroke="#cccccc" stroke-width="0.9"/>
<line x1="563.54" y1="553.30" x2="563.54" y2="569.70" stroke="#cccccc" stroke-width="0.9"/>
<line x1="561.14" y1="553.30" x2="565.94" y2="553.30" stroke="#cccccc" stroke-width="0.9"/>
<line x1="561.14" y1="569.70" x2="565.94" y2="569.70" stroke="#cccccc" stroke-width="0.9"/>
<line x1="567.13" y1="553.30" x2="567.13" y2="569.70" stroke="#cccccc" stroke-width="0.9"/>
<line x1="564.73" y1="553.30" x2="569.53" y2="553.30" stroke="#cccccc" stroke-width="0.9"/>
<line x1="564.73" y1="569.70" x2="569.53" y2="569.70" stroke="#cccccc" stroke-width="0.9"/>
<line x1="570.72" y1="551.80" x2="570.72" y2="567.40" stroke="#cccccc" stroke-width="0.9"/>
<line x1="568.32" y1="551.80" x2="573.12" y2="551.80" stroke="#cccccc" stroke-width="0.9"/>
<line x1="568.32" y1="567.40" x2="573.12" y2="567.40" stroke="#cccccc" stroke-width="0.9"/>
<line x1="574.31" y1="551.80" x2="574.31" y2="567.40" stroke="#cccccc" stroke-width="0.9"/>
<line x1="571.91" y1="551.80" x2="576.71" y2="551.80" stroke="#cccccc" stroke-width="0.9"/>
<line x1="571.91" y1="567.40" x2="576.71" y2="567.40" stroke="#cccccc" stroke-width="0.9"/>
<line x1="577.90" y1="548.00" x2="577.90" y2="563.80" stroke="#cccccc" stroke-width="0.9"/>
<line x1="575.50" y1="548.00" x2="580.30" y2="548.00" stroke="#cccccc" stroke-width="0.9"/>
<line x1="575.50" y1="563.80" x2="580.30" y2="563.80" stroke="#cccccc" stroke-width="0.9"/>
<line x1="581.50" y1="545.50" x2="581.50" y2="559.70" stroke="#cccccc" stroke-width="0.9"/>
<line x1="579.10" y1="545.50" x2="583.89" y2="545.50" stroke="#cccccc" stroke-width="0.9"/>
<line x1="579.10" y1="559.70" x2="583.89" y2="559.70" stroke="#cccccc" stroke-width="0.9"/>
<line x1="585.09" y1="542.60" x2="585.09" y2="559.40" stroke="#cccccc" stroke-width="0.9"/>
<line x1="582.69" y1="542.60" x2="587.49" y2="542.60" stroke="#cccccc" stroke-width="0.9"/>
<line x1="582.69" y1="559.40" x2="587.49" y2="559.40" stroke="#cccccc" stroke-width="0.9"/>
<line x1="588.68" y1="542.60" x2="588.68" y2="559.40" stroke="#cccccc" stroke-width="0.9"/>
<line x1="586.28" y1="542.60" x2="591.08" y2="542.60" stroke="#cccccc" stroke-width="0.9"/>
<line x1="586.28" y1="559.40" x2="591.08" y2="559.40" stroke="#cccccc" stroke-width="0.9"/>
<line x1="592.27" y1="539.70" x2="592.27" y2="555.50" stroke="#cccccc" stroke-width="0.9"/>
<line x1="589.87" y1="539.70" x2="594.67" y2="539.70" stroke="#cccccc" stroke-width="0.9"/>
<line x1="589.87" y1="555.50" x2="594.67" y2="555.50" stroke="#cccccc" stroke-width="0.9"/>
<line x1="595.86" y1="539.70" x2="595.86" y2="555.50" stroke="#cccccc" stroke-width="0.9"/>
<line x1="593.46" y1="539.70" x2="598.26" y2="539.70" stroke="#cccccc" stroke-width="0.9"/>
<line x1="593.46" y1="555.50" x2="598.26" y2="555.50" stroke="#cccccc" stroke-width="0.9"/>
<line x1="599.45" y1="539.70" x2="599.45" y2="555.50" stroke="#cccccc" stroke-width="0.9"/>
<line x1="597.05" y1="539.70" x2="601.85" y2="539.70" stroke="#cccccc" stroke-width="0.9"/>
<line x1="597.05" y1="555.50" x2="601.85" y2="555.50" stroke="#cccccc" stroke-width="0.9"/>
<line x1="603.04" y1="539.70" x2="603.04" y2="555.50" stroke="#cccccc" stroke-width="0.9"/>
<line x1="600.64" y1="539.70" x2="605.44" y2="539.70" stroke="#cccccc" stroke-width="0.9"/>
<line x1="600.64" y1="555.50" x2="605.44" y2="555.50" stroke="#cccccc" stroke-width="0.9"/>
<line x1="606.63" y1="541.60" x2="606.63" y2="557.20" stroke="#cccccc" stroke-width="0.9"/>
<line x1="604.23" y1="541.60" x2="609.03" y2="541.60" stroke="#cccccc" stroke-width="0.9"/>
<line x1="604.23" y1="557.20" x2="609.03" y2="557.20" stroke="#cccccc" stroke-width="0.9"/>
<line x1="610.22" y1="542.65" x2="610.22" y2="559.15" stroke="#cccccc" stroke-width="0.9"/>
<line x1="607.82" y1="542.65" x2="612.62" y2="542.65" stroke="#cccccc" stroke-width="0.9"/>
<line x1="607.82" y1="559.15" x2="612.62" y2="559.15" stroke="#cccccc" stroke-width="0.9"/>
<line x1="613.81" y1="542.65" x2="613.81" y2="559.15" stroke="#cccccc" stroke-width="0.9"/>
<line x1="611.41" y1="542.65" x2="616.21" y2="542.65" stroke="#cccccc" stroke-width="0.9"/>
<line x1="611.41" y1="559.15" x2="616.21" y2="559.15" stroke="#cccccc" stroke-width="0.9"/>
<line x1="617.40" y1="541.35" x2="617.40" y2="557.25" stroke="#cccccc" stroke-width="0.9"/>
<line x1="615.00" y1="541.35" x2="619.80" y2="541.35" stroke="#cccccc" stroke-width="0.9"/>
<line x1="615.00" y1="557.25" x2="619.80" y2="557.25" stroke="#cccccc" stroke-width="0.9"/>
<line x1="621.00" y1="541.35" x2="621.00" y2="557.25" stroke="#cccccc" stroke-width="0.9"/>
<line x1="618.60" y1="541.35" x2="623.40" y2="541.35" stroke="#cccccc" stroke-width="0.9"/>
<line x1="618.60" y1="557.25" x2="623.40" y2="557.25" stroke="#cccccc" stroke-width="0.9"/>
<line x1="624.59" y1="535.50" x2="624.59" y2="556.90" stroke="#cccccc" stroke-width="0.9"/>
<line x1="622.19" y1="535.50" x2="626.99" y2="535.50" stroke="#cccccc" stroke-width="0.9"/>
<line x1="622.19" y1="556.90" x2="626.99" y2="556.90" stroke="#cccccc" stroke-width="0.9"/>
<line x1="628.18" y1="536.20" x2="628.18" y2="558.40" stroke="#cccccc" stroke-width="0.9"/>
<line x1="625.78" y1="536.20" x2="630.58" y2="536.20" stroke="#cccccc" stroke-width="0.9"/>
<line x1="625.78" y1="558.40" x2="630.58" y2="558.40" stroke="#cccccc" stroke-width="0.9"/>
<line x1="631.77" y1="536.20" x2="631.77" y2="558.40" stroke="#cccccc" stroke-width="0.9"/>
<line x1="629.37" y1="536.20" x2="634.17" y2="536.20" stroke="#cccccc" stroke-width="0.9"/>
<line x1="629.37" y1="558.40" x2="634.17" y2="558.40" stroke="#cccccc" stroke-width="0.9"/>
<line x1="635.36" y1="541.25" x2="635.36" y2="560.95" stroke="#cccccc" stroke-width="0.9"/>
<line x1="632.96" y1="541.25" x2="637.76" y2="541.25" stroke="#cccccc" stroke-width="0.9"/>
<line x1="632.96" y1="560.95" x2="637.76" y2="560.95" stroke="#cccccc" stroke-width="0.9"/>
<line x1="638.95" y1="539.45" x2="638.95" y2="559.15" stroke="#cccccc" stroke-width="0.9"/>
<line x1="636.55" y1="539.45" x2="641.35" y2="539.45" stroke="#cccccc" stroke-width="0.9"/>
<line x1="636.55" y1="559.15" x2="641.35" y2="559.15" stroke="#cccccc" stroke-width="0.9"/>
<line x1="642.54" y1="536.20" x2="642.54" y2="558.40" stroke="#cccccc" stroke-width="0.9"/>
<line x1="640.14" y1="536.20" x2="644.94" y2="536.20" stroke="#cccccc" stroke-width="0.9"/>
<line x1="640.14" y1="558.40" x2="644.94" y2="558.40" stroke="#cccccc" stroke-width="0.9"/>
<line x1="646.13" y1="533.25" x2="646.13" y2="555.15" stroke="#cccccc" stroke-width="0.9"/>
<line x1="643.73" y1="533.25" x2="648.53" y2="533.25" stroke="#cccccc" stroke-width="0.9"/>
<line x1="643.73" y1="555.15" x2="648.53" y2="555.15" stroke="#cccccc" stroke-width="0.9"/>
<line x1="649.72" y1="527.35" x2="649.72" y2="550.45" stroke="#cccccc" stroke-width="0.9"/>
<line x1="647.32" y1="527.35" x2="652.12" y2="527.35" stroke="#cccccc" stroke-width="0.9"/>
<line x1="647.32" y1="550.45" x2="652.12" y2="550.45" stroke="#cccccc" stroke-width="0.9"/>
<line x1="653.32" y1="527.00" x2="653.32" y2="547.40" stroke="#cccccc" stroke-width="0.9"/>
<line x1="650.92" y1="527.00" x2="655.72" y2="527.00" stroke="#cccccc" stroke-width="0.9"/>
<line x1="650.92" y1="547.40" x2="655.72" y2="547.40" stroke="#cccccc" stroke-width="0.9"/>
<line x1="656.91" y1="521.50" x2="656.91" y2="543.10" stroke="#cccccc" stroke-width="0.9"/>
<line x1="654.51" y1="521.50" x2="659.31" y2="521.50" stroke="#cccccc" stroke-width="0.9"/>
<line x1="654.51" y1="543.10" x2="659.31" y2="543.10" stroke="#cccccc" stroke-width="0.9"/>
<line x1="660.50" y1="518.20" x2="660.50" y2="542.80" stroke="#cccccc" stroke-width="0.9"/>
<line x1="658.10" y1="518.20" x2="662.90" y2="518.20" stroke="#cccccc" stroke-width="0.9"/>
<line x1="658.10" y1="542.80" x2="662.90" y2="542.80" stroke="#cccccc" stroke-width="0.9"/>
<line x1="664.09" y1="501.80" x2="664.09" y2="531.40" stroke="#cccccc" stroke-width="0.9"/>
<line x1="661.69" y1="501.80" x2="666.49" y2="501.80" stroke="#cccccc" stroke-width="0.9"/>
<line x1="661.69" y1="531.40" x2="666.49" y2="531.40" stroke="#cccccc" stroke-width="0.9"/>
<line x1="667.68" y1="467.45" x2="667.68" y2="503.75" stroke="#cccccc" stroke-width="0.9"/>
<line x1="665.28" y1="467.45" x2="670.08" y2="467.45" stroke="#cccccc" stroke-width="0.9"/>
<line x1="665.28" y1="503.75" x2="670.08" y2="503.75" stroke="#cccccc" stroke-width="0.9"/>
<line x1="671.27" y1="455.00" x2="671.27" y2="482.40" stroke="#cccccc" stroke-width="0.9"/>
<line x1="668.87" y1="455.00" x2="673.67" y2="455.00" stroke="#cccccc" stroke-width="0.9"/>
<line x1="668.87" y1="482.40" x2="673.67" y2="482.40" stroke="#cccccc" stroke-width="0.9"/>
<circle cx="419.90" cy="561.50" r="1.35" fill="#ff0000"/>
<circle cx="423.49" cy="561.50" r="1.35" fill="#ff0000"/>
<circle cx="427.08" cy="561.50" r="1.35" fill="#ff0000"/>
<circle cx="430.67" cy="561.50" r="1.35" fill="#ff0000"/>
<circle cx="434.26" cy="561.50" r="1.35" fill="#ff0000"/>
<circle cx="437.85" cy="561.50" r="1.35" fill="#ff0000"/>
<circle cx="441.45" cy="561.50" r="1.35" fill="#ff0000"/>
<circle cx="445.04" cy="561.50" r="1.35" fill="#ff0000"/>
<circle cx="448.63" cy="561.50" r="1.35" fill="#ff0000"/>
<circle cx="452.22" cy="561.50" r="1.35" fill="#ff0000"/>
<circle cx="455.81" cy="561.50" r="1.35" fill="#ff0000"/>
<circle cx="459.40" cy="561.50" r="1.35" fill="#ff0000"/>
<circle cx="462.99" cy="561.50" r="1.35" fill="#ff0000"/>
<circle cx="466.58" cy="561.50" r="1.35" fill="#ff0000"/>
<circle cx="470.17" cy="561.50" r="1.35" fill="#ff0000"/>
<circle cx="473.76" cy="561.50" r="1.35" fill="#ff0000"/>
<circle cx="477.36" cy="561.50" r="1.35" fill="#ff0000"/>
<circle cx="480.95" cy="561.50" r="1.35" fill="#ff0000"/>
<circle cx="484.54" cy="561.50" r="1.35" fill="#ff0000"/>
<circle cx="488.13" cy="561.50" r="1.35" fill="#ff0000"/>
<circle cx="491.72" cy="561.50" r="1.35" fill="#ff0000"/>
<circle cx="495.31" cy="559.40" r="1.35" fill="#ff0000"/>
<circle cx="498.90" cy="559.40" r="1.35" fill="#ff0000"/>
<circle cx="502.49" cy="559.40" r="1.35" fill="#ff0000"/>
<circle cx="506.08" cy="561.40" r="1.35" fill="#ff0000"/>
<circle cx="509.67" cy="561.40" r="1.35" fill="#ff0000"/>
<circle cx="513.27" cy="561.40" r="1.35" fill="#ff0000"/>
<circle cx="516.86" cy="561.40" r="1.35" fill="#ff0000"/>
<circle cx="520.45" cy="561.40" r="1.35" fill="#ff0000"/>
<circle cx="524.04" cy="561.40" r="1.35" fill="#ff0000"/>
<circle cx="527.63" cy="561.40" r="1.35" fill="#ff0000"/>
<circle cx="531.22" cy="559.70" r="1.35" fill="#ff0000"/>
<circle cx="534.81" cy="559.70" r="1.35" fill="#ff0000"/>
<circle cx="538.40" cy="559.70" r="1.35" fill="#ff0000"/>
<circle cx="541.99" cy="559.70" r="1.35" fill="#ff0000"/>
<circle cx="545.59" cy="559.70" r="1.35" fill="#ff0000"/>
<circle cx="549.18" cy="559.70" r="1.35" fill="#ff0000"/>
<circle cx="552.77" cy="561.50" r="1.35" fill="#ff0000"/>
<circle cx="556.36" cy="561.50" r="1.35" fill="#ff0000"/>
<circle cx="559.95" cy="559.70" r="1.35" fill="#ff0000"/>
<circle cx="563.54" cy="561.50" r="1.35" fill="#ff0000"/>
<circle cx="567.13" cy="561.50" r="1.35" fill="#ff0000"/>
<circle cx="570.72" cy="559.60" r="1.35" fill="#ff0000"/>
<circle cx="574.31" cy="559.60" r="1.35" fill="#ff0000"/>
<circle cx="577.90" cy="555.90" r="1.35" fill="#ff0000"/>
<circle cx="581.50" cy="552.60" r="1.35" fill="#ff0000"/>
<circle cx="585.09" cy="551.00" r="1.35" fill="#ff0000"/>
<circle cx="588.68" cy="551.00" r="1.35" fill="#ff0000"/>
<circle cx="592.27" cy="547.60" r="1.35" fill="#ff0000"/>
<circle cx="595.86" cy="547.60" r="1.35" fill="#ff0000"/>
<circle cx="599.45" cy="547.60" r="1.35" fill="#ff0000"/>
<circle cx="603.04" cy="547.60" r="1.35" fill="#ff0000"/>
<circle cx="606.63" cy="549.40" r="1.35" fill="#ff0000"/>
<circle cx="610.22" cy="550.90" r="1.35" fill="#ff0000"/>
<circle cx="613.81" cy="550.90" r="1.35" fill="#ff0000"/>
<circle cx="617.40" cy="549.30" r="1.35" fill="#ff0000"/>
<circle cx="621.00" cy="549.30" r="1.35" fill="#ff0000"/>
<circle cx="624.59" cy="546.20" r="1.35" fill="#ff0000"/>
<circle cx="628.18" cy="547.30" r="1.35" fill="#ff0000"/>
<circle cx="631.77" cy="547.30" r="1.35" fill="#ff0000"/>
<circle cx="635.36" cy="551.10" r="1.35" fill="#ff0000"/>
<circle cx="638.95" cy="549.30" r="1.35" fill="#ff0000"/>
<circle cx="642.54" cy="547.30" r="1.35" fill="#ff0000"/>
<circle cx="646.13" cy="544.20" r="1.35" fill="#ff0000"/>
<circle cx="649.72" cy="538.90" r="1.35" fill="#ff0000"/>
<circle cx="653.32" cy="537.20" r="1.35" fill="#ff0000"/>
<circle cx="656.91" cy="532.30" r="1.35" fill="#ff0000"/>
<circle cx="660.50" cy="530.50" r="1.35" fill="#ff0000"/>
<circle cx="664.09" cy="516.60" r="1.35" fill="#ff0000"/>
<circle cx="667.68" cy="485.60" r="1.35" fill="#ff0000"/>
<circle cx="671.27" cy="468.70" r="1.35" fill="#ff0000"/>
<rect x="408.10" y="631.50" width="271.40" height="124.90" fill="none" stroke="#7f7f7f" stroke-width="1"/>
<line x1="404.10" y1="637.50" x2="408.10" y2="637.50" stroke="#7f7f7f" stroke-width="1"/>
<text x="398.30" y="635.70" font-size="10.4" text-anchor="middle" fill="#000" transform="rotate(-90 398.30 635.70)">2.0</text>
<line x1="404.10" y1="655.62" x2="408.10" y2="655.62" stroke="#7f7f7f" stroke-width="1"/>
<text x="398.30" y="653.83" font-size="10.4" text-anchor="middle" fill="#000" transform="rotate(-90 398.30 653.83)">1.5</text>
<line x1="404.10" y1="673.75" x2="408.10" y2="673.75" stroke="#7f7f7f" stroke-width="1"/>
<text x="398.30" y="671.95" font-size="10.4" text-anchor="middle" fill="#000" transform="rotate(-90 398.30 671.95)">1.0</text>
<line x1="404.10" y1="691.88" x2="408.10" y2="691.88" stroke="#7f7f7f" stroke-width="1"/>
<text x="398.30" y="690.08" font-size="10.4" text-anchor="middle" fill="#000" transform="rotate(-90 398.30 690.08)">0.5</text>
<line x1="404.10" y1="710.00" x2="408.10" y2="710.00" stroke="#7f7f7f" stroke-width="1"/>
<text x="398.30" y="708.20" font-size="10.4" text-anchor="middle" fill="#000" transform="rotate(-90 398.30 708.20)">0.0</text>
<line x1="404.10" y1="728.12" x2="408.10" y2="728.12" stroke="#7f7f7f" stroke-width="1"/>
<line x1="404.10" y1="746.25" x2="408.10" y2="746.25" stroke="#7f7f7f" stroke-width="1"/>
<text x="398.30" y="744.45" font-size="10.4" text-anchor="middle" fill="#000" transform="rotate(-90 398.30 744.45)">−1.0</text>
<line x1="418.50" y1="756.40" x2="418.50" y2="760.70" stroke="#7f7f7f" stroke-width="1"/>
<text x="418.50" y="771.20" font-size="10" text-anchor="middle" fill="#000">0.0</text>
<line x1="418.50" y1="631.50" x2="418.50" y2="629.30" stroke="#7f7f7f" stroke-width="1"/>
<text x="418.50" y="625.20" font-size="10" text-anchor="middle" fill="#000">0</text>
<line x1="461.66" y1="756.40" x2="461.66" y2="760.70" stroke="#7f7f7f" stroke-width="1"/>
<text x="461.66" y="771.20" font-size="10" text-anchor="middle" fill="#000">0.1</text>
<line x1="461.66" y1="631.50" x2="461.66" y2="629.30" stroke="#7f7f7f" stroke-width="1"/>
<text x="461.66" y="625.20" font-size="10" text-anchor="middle" fill="#000">2</text>
<line x1="504.82" y1="756.40" x2="504.82" y2="760.70" stroke="#7f7f7f" stroke-width="1"/>
<text x="504.82" y="771.20" font-size="10" text-anchor="middle" fill="#000">0.2</text>
<line x1="504.82" y1="631.50" x2="504.82" y2="629.30" stroke="#7f7f7f" stroke-width="1"/>
<text x="504.82" y="625.20" font-size="10" text-anchor="middle" fill="#000">3</text>
<line x1="547.98" y1="756.40" x2="547.98" y2="760.70" stroke="#7f7f7f" stroke-width="1"/>
<text x="547.98" y="771.20" font-size="10" text-anchor="middle" fill="#000">0.3</text>
<line x1="547.98" y1="631.50" x2="547.98" y2="629.30" stroke="#7f7f7f" stroke-width="1"/>
<text x="547.98" y="625.20" font-size="10" text-anchor="middle" fill="#000">5</text>
<line x1="591.14" y1="756.40" x2="591.14" y2="760.70" stroke="#7f7f7f" stroke-width="1"/>
<text x="591.14" y="771.20" font-size="10" text-anchor="middle" fill="#000">0.4</text>
<line x1="591.14" y1="631.50" x2="591.14" y2="629.30" stroke="#7f7f7f" stroke-width="1"/>
<text x="591.14" y="625.20" font-size="10" text-anchor="middle" fill="#000">5</text>
<line x1="634.30" y1="756.40" x2="634.30" y2="760.70" stroke="#7f7f7f" stroke-width="1"/>
<text x="634.30" y="771.20" font-size="10" text-anchor="middle" fill="#000">0.5</text>
<line x1="634.30" y1="631.50" x2="634.30" y2="629.30" stroke="#7f7f7f" stroke-width="1"/>
<text x="634.30" y="625.20" font-size="10" text-anchor="middle" fill="#000">6</text>
<line x1="677.46" y1="756.40" x2="677.46" y2="760.70" stroke="#7f7f7f" stroke-width="1"/>
<text x="677.46" y="771.20" font-size="10" text-anchor="middle" fill="#000">0.6</text>
<line x1="677.46" y1="631.50" x2="677.46" y2="629.30" stroke="#7f7f7f" stroke-width="1"/>
<text x="677.46" y="625.20" font-size="10" text-anchor="middle" fill="#000">6</text>
<text x="383.20" y="685.00" font-size="10" text-anchor="middle" fill="#000" transform="rotate(-90 383.20 685.00)">Coefficients</text>
<text x="556.00" y="786.20" font-size="8.4" text-anchor="middle" fill="#000">Fraction Deviance Explained</text>
<polyline points="418.50,710.00 419.55,710.00 420.60,710.00 421.65,710.00 422.70,710.00 423.75,710.00 424.80,710.00 425.84,710.00 426.89,710.00 427.94,710.00 428.99,710.00 430.04,710.00 431.09,710.00 432.14,710.00 433.19,710.00 434.24,710.00 435.29,710.00 436.34,710.00 437.39,710.00 438.43,710.00 439.48,710.00 440.53,710.00 441.58,710.00 442.63,710.00 443.68,710.00 444.73,710.00 445.78,710.00 446.83,710.00 447.88,710.00 448.93,710.00 449.98,710.00 451.03,710.00 452.07,710.00 453.12,710.00 454.17,710.00 455.22,710.00 456.27,710.00 457.32,710.00 458.37,710.00 459.42,710.00 460.47,710.00 461.52,710.00 462.57,710.00 463.62,710.00 464.66,710.00 465.71,710.00 466.76,710.00 467.81,710.00 468.86,710.00 469.91,710.00 470.96,710.00 472.01,710.00 473.06,710.00 474.11,710.00 475.16,710.00 476.21,710.00 477.26,710.00 478.30,710.00 479.35,710.00 480.40,710.00 481.45,710.00 482.50,710.00 483.55,710.00 484.60,710.00 485.65,710.00 486.70,710.00 487.75,710.00 488.80,710.00 489.85,710.00 490.90,710.00 491.94,710.00 492.99,710.00 494.04,710.00 495.09,710.01 496.14,710.03 497.19,710.06 498.24,710.11 499.29,710.17 500.34,710.24 501.39,710.32 502.44,710.41 503.49,710.52 504.53,710.63 505.58,710.75 506.63,710.88 507.68,711.02 508.73,711.17 509.78,711.32 510.83,711.48 511.88,711.65 512.93,711.82 513.98,712.00 515.03,712.19 516.08,712.38 517.13,712.57 518.17,712.76 519.22,712.96 520.27,713.16 521.32,713.37 522.37,713.57 523.42,713.78 524.47,713.99 525.52,714.20 526.57,714.40 527.62,714.61 528.67,714.81 529.72,715.02 530.76,715.22 531.81,715.42 532.86,715.61 533.91,715.80 534.96,715.99 536.01,716.17 537.06,716.35 538.11,716.52 539.16,716.69 540.21,716.85 541.26,717.00 542.31,717.16 543.36,717.31 544.40,717.46 545.45,717.61 546.50,717.77 547.55,717.92 548.60,718.07 549.65,718.22 550.70,718.38 551.75,718.53 552.80,718.69 553.85,718.84 554.90,719.00 555.95,719.17 556.99,719.33 558.04,719.50 559.09,719.67 560.14,719.85 561.19,720.03 562.24,720.22 563.29,720.41 564.34,720.60 565.39,720.80 566.44,721.00 567.49,721.20 568.54,721.41 569.59,721.62 570.63,721.83 571.68,722.04 572.73,722.26 573.78,722.47 574.83,722.69 575.88,722.90 576.93,723.12 577.98,723.33 579.03,723.54 580.08,723.75 581.13,723.96 582.18,724.17 583.22,724.38 584.27,724.58 585.32,724.78 586.37,724.99 587.42,725.19 588.47,725.39 589.52,725.60 590.57,725.80 591.62,726.01 592.67,726.21 593.72,726.42 594.77,726.63 595.82,726.84 596.86,727.06 597.91,727.28 598.96,727.50 600.01,727.73 601.06,727.96 602.11,728.19 603.16,728.43 604.21,728.67 605.26,728.91 606.31,729.17 607.36,729.43 608.41,729.69 609.46,729.97 610.50,730.26 611.55,730.56 612.60,730.87 613.65,731.20 614.70,731.53 615.75,731.88 616.80,732.22 617.85,732.58 618.90,732.93 619.95,733.29 621.00,733.65 622.05,734.05 623.09,734.45 624.14,734.85 625.19,735.22 626.24,735.54 627.29,735.80 628.34,736.04 629.39,736.26 630.44,736.47 631.49,736.67 632.54,736.86 633.59,737.05 634.64,737.23 635.69,737.41 636.73,737.58 637.78,737.77 638.83,737.95 639.88,738.15 640.93,738.36 641.98,738.57 643.03,738.79 644.08,739.01 645.13,739.23 646.18,739.47 647.23,739.71 648.28,739.97 649.32,740.25 650.37,740.54 651.42,740.86 652.47,741.20 653.52,741.57 654.57,741.96 655.62,742.38 656.67,742.82 657.72,743.29 658.77,743.79 659.82,744.31 660.87,744.85 661.92,745.44 662.96,746.09 664.01,746.81 665.06,747.59 666.11,748.43 667.16,749.37 668.21,750.45 669.26,751.62" fill="none" stroke="#2297E6" stroke-width="0.75" stroke-linejoin="round"/>
<polyline points="418.50,710.00 419.55,710.00 420.60,710.00 421.65,710.00 422.70,710.00 423.75,710.00 424.80,710.00 425.84,710.00 426.89,710.00 427.94,710.00 428.99,710.00 430.04,710.00 431.09,710.00 432.14,710.00 433.19,710.00 434.24,710.00 435.29,710.00 436.34,710.00 437.39,710.00 438.43,710.00 439.48,710.00 440.53,710.00 441.58,710.00 442.63,710.00 443.68,710.00 444.73,710.00 445.78,710.00 446.83,710.00 447.88,710.00 448.93,710.00 449.98,710.00 451.03,710.00 452.07,710.00 453.12,710.00 454.17,710.00 455.22,710.00 456.27,710.00 457.32,710.00 458.37,710.00 459.42,710.00 460.47,710.00 461.52,710.00 462.57,710.00 463.62,710.00 464.66,710.00 465.71,710.00 466.76,710.00 467.81,710.00 468.86,710.00 469.91,710.00 470.96,710.00 472.01,710.00 473.06,710.00 474.11,710.00 475.16,710.00 476.21,710.00 477.26,710.00 478.30,710.00 479.35,710.00 480.40,710.00 481.45,710.00 482.50,710.00 483.55,710.00 484.60,710.00 485.65,710.00 486.70,710.00 487.75,710.00 488.80,710.00 489.85,710.00 490.90,710.00 491.94,710.00 492.99,710.00 494.04,710.00 495.09,710.00 496.14,710.00 497.19,710.00 498.24,710.00 499.29,710.00 500.34,710.00 501.39,710.00 502.44,710.00 503.49,710.00 504.53,710.00 505.58,710.00 506.63,710.00 507.68,710.00 508.73,710.00 509.78,710.00 510.83,710.00 511.88,710.00 512.93,710.00 513.98,710.00 515.03,710.00 516.08,710.00 517.13,710.00 518.17,710.00 519.22,710.00 520.27,710.00 521.32,710.00 522.37,710.00 523.42,710.00 524.47,710.00 525.52,710.00 526.57,710.00 527.62,710.00 528.67,710.00 529.72,710.00 530.76,710.00 531.81,710.00 532.86,710.00 533.91,710.00 534.96,710.00 536.01,710.00 537.06,710.00 538.11,710.00 539.16,710.00 540.21,710.00 541.26,710.00 542.31,710.00 543.36,710.00 544.40,710.00 545.45,710.00 546.50,710.00 547.55,710.00 548.60,710.00 549.65,710.00 550.70,710.00 551.75,710.00 552.80,710.00 553.85,710.00 554.90,710.00 555.95,710.00 556.99,710.00 558.04,710.00 559.09,710.00 560.14,710.00 561.19,710.00 562.24,710.00 563.29,710.00 564.34,710.00 565.39,710.00 566.44,710.00 567.49,710.00 568.54,710.00 569.59,710.00 570.63,710.00 571.68,710.00 572.73,710.00 573.78,710.00 574.83,710.00 575.88,710.00 576.93,710.00 577.98,710.00 579.03,710.00 580.08,710.00 581.13,710.00 582.18,710.00 583.22,710.00 584.27,710.00 585.32,710.00 586.37,710.00 587.42,710.00 588.47,710.00 589.52,710.00 590.57,710.00 591.62,710.00 592.67,710.00 593.72,710.00 594.77,710.00 595.82,710.00 596.86,710.00 597.91,710.00 598.96,710.00 600.01,710.00 601.06,710.00 602.11,710.00 603.16,710.00 604.21,710.00 605.26,710.00 606.31,710.00 607.36,710.00 608.41,710.00 609.46,710.00 610.50,710.00 611.55,710.00 612.60,710.00 613.65,710.00 614.70,710.00 615.75,710.00 616.80,710.00 617.85,710.00 618.90,710.00 619.95,710.00 621.00,710.00 622.05,710.00 623.09,710.00 624.14,710.00 625.19,710.00 626.24,710.00 627.29,710.11 628.34,710.42 629.39,710.82 630.44,711.20 631.49,711.56 632.54,711.94 633.59,712.34 634.64,712.75 635.69,713.18 636.73,713.62 637.78,714.06 638.83,714.50 639.88,714.95 640.93,715.40 641.98,715.84 643.03,716.27 644.08,716.71 645.13,717.16 646.18,717.62 647.23,718.08 648.28,718.57 649.32,719.08 650.37,719.61 651.42,720.17 652.47,720.75 653.52,721.35 654.57,721.98 655.62,722.64 656.67,723.33 657.72,724.04 658.77,724.79 659.82,725.58 660.87,726.41 661.92,727.26 662.96,728.15 664.01,729.13 665.06,730.26 666.11,731.63 667.16,733.49 668.21,735.98 669.26,738.82" fill="none" stroke="#28E2E5" stroke-width="0.75" stroke-linejoin="round"/>
<polyline points="418.50,710.00 419.55,709.88 420.60,709.75 421.65,709.62 422.70,709.50 423.75,709.37 424.80,709.24 425.84,709.11 426.89,708.98 427.94,708.85 428.99,708.72 430.04,708.58 431.09,708.45 432.14,708.31 433.19,708.18 434.24,708.04 435.29,707.91 436.34,707.77 437.39,707.63 438.43,707.49 439.48,707.35 440.53,707.21 441.58,707.07 442.63,706.93 443.68,706.79 444.73,706.64 445.78,706.50 446.83,706.36 447.88,706.21 448.93,706.07 449.98,705.92 451.03,705.77 452.07,705.63 453.12,705.47 454.17,705.32 455.22,705.17 456.27,705.01 457.32,704.85 458.37,704.69 459.42,704.53 460.47,704.37 461.52,704.21 462.57,704.05 463.62,703.89 464.66,703.73 465.71,703.57 466.76,703.41 467.81,703.25 468.86,703.10 469.91,702.95 470.96,702.80 472.01,702.65 473.06,702.50 474.11,702.35 475.16,702.20 476.21,702.04 477.26,701.89 478.30,701.74 479.35,701.59 480.40,701.43 481.45,701.28 482.50,701.13 483.55,700.98 484.60,700.84 485.65,700.69 486.70,700.55 487.75,700.40 488.80,700.26 489.85,700.13 490.90,699.99 491.94,699.86 492.99,699.74 494.04,699.61 495.09,699.50 496.14,699.38 497.19,699.27 498.24,699.17 499.29,699.06 500.34,698.96 501.39,698.87 502.44,698.77 503.49,698.68 504.53,698.59 505.58,698.50 506.63,698.41 507.68,698.32 508.73,698.24 509.78,698.16 510.83,698.08 511.88,698.00 512.93,697.92 513.98,697.84 515.03,697.76 516.08,697.69 517.13,697.61 518.17,697.54 519.22,697.46 520.27,697.39 521.32,697.32 522.37,697.24 523.42,697.17 524.47,697.10 525.52,697.03 526.57,696.96 527.62,696.90 528.67,696.84 529.72,696.77 530.76,696.71 531.81,696.65 532.86,696.59 533.91,696.52 534.96,696.46 536.01,696.39 537.06,696.32 538.11,696.25 539.16,696.18 540.21,696.10 541.26,696.02 542.31,695.94 543.36,695.85 544.40,695.77 545.45,695.68 546.50,695.59 547.55,695.50 548.60,695.40 549.65,695.31 550.70,695.21 551.75,695.12 552.80,695.02 553.85,694.92 554.90,694.82 555.95,694.72 556.99,694.62 558.04,694.52 559.09,694.43 560.14,694.33 561.19,694.23 562.24,694.13 563.29,694.03 564.34,693.93 565.39,693.83 566.44,693.73 567.49,693.63 568.54,693.53 569.59,693.43 570.63,693.33 571.68,693.23 572.73,693.12 573.78,693.02 574.83,692.92 575.88,692.81 576.93,692.71 577.98,692.60 579.03,692.50 580.08,692.39 581.13,692.29 582.18,692.18 583.22,692.08 584.27,691.97 585.32,691.87 586.37,691.76 587.42,691.66 588.47,691.55 589.52,691.45 590.57,691.34 591.62,691.23 592.67,691.13 593.72,691.02 594.77,690.91 595.82,690.80 596.86,690.69 597.91,690.58 598.96,690.47 600.01,690.35 601.06,690.24 602.11,690.12 603.16,690.01 604.21,689.89 605.26,689.78 606.31,689.66 607.36,689.54 608.41,689.41 609.46,689.27 610.50,689.12 611.55,688.96 612.60,688.80 613.65,688.62 614.70,688.44 615.75,688.25 616.80,688.05 617.85,687.84 618.90,687.63 619.95,687.40 621.00,687.17 622.05,686.93 623.09,686.66 624.14,686.39 625.19,686.11 626.24,685.81 627.29,685.52 628.34,685.22 629.39,684.92 630.44,684.62 631.49,684.32 632.54,684.03 633.59,683.74 634.64,683.44 635.69,683.13 636.73,682.82 637.78,682.50 638.83,682.17 639.88,681.82 640.93,681.46 641.98,681.08 643.03,680.68 644.08,680.26 645.13,679.83 646.18,679.39 647.23,678.93 648.28,678.45 649.32,677.96 650.37,677.46 651.42,676.94 652.47,676.41 653.52,675.86 654.57,675.29 655.62,674.70 656.67,674.09 657.72,673.46 658.77,672.79 659.82,672.10 660.87,671.38 661.92,670.64 662.96,669.88 664.01,669.05 665.06,668.10 666.11,666.96 667.16,665.45 668.21,663.46 669.26,661.21" fill="none" stroke="#000000" stroke-width="0.75" stroke-linejoin="round"/>
<polyline points="418.50,710.00 419.55,709.92 420.60,709.84 421.65,709.76 422.70,709.68 423.75,709.60 424.80,709.52 425.84,709.44 426.89,709.35 427.94,709.27 428.99,709.19 430.04,709.11 431.09,709.03 432.14,708.95 433.19,708.86 434.24,708.78 435.29,708.70 436.34,708.62 437.39,708.53 438.43,708.45 439.48,708.37 440.53,708.29 441.58,708.20 442.63,708.12 443.68,708.04 444.73,707.95 445.78,707.87 446.83,707.79 447.88,707.70 448.93,707.62 449.98,707.53 451.03,707.45 452.07,707.37 453.12,707.28 454.17,707.20 455.22,707.12 456.27,707.03 457.32,706.95 458.37,706.86 459.42,706.78 460.47,706.70 461.52,706.61 462.57,706.53 463.62,706.44 464.66,706.35 465.71,706.27 466.76,706.18 467.81,706.09 468.86,706.00 469.91,705.91 470.96,705.82 472.01,705.73 473.06,705.64 474.11,705.54 475.16,705.44 476.21,705.34 477.26,705.23 478.30,705.13 479.35,705.02 480.40,704.91 481.45,704.81 482.50,704.70 483.55,704.59 484.60,704.48 485.65,704.38 486.70,704.27 487.75,704.17 488.80,704.07 489.85,703.97 490.90,703.87 491.94,703.77 492.99,703.68 494.04,703.59 495.09,703.50 496.14,703.42 497.19,703.34 498.24,703.27 499.29,703.20 500.34,703.13 501.39,703.07 502.44,703.01 503.49,702.94 504.53,702.88 505.58,702.83 506.63,702.77 507.68,702.71 508.73,702.66 509.78,702.61 510.83,702.55 511.88,702.50 512.93,702.45 513.98,702.40 515.03,702.34 516.08,702.29 517.13,702.24 518.17,702.18 519.22,702.13 520.27,702.07 521.32,702.01 522.37,701.95 523.42,701.89 524.47,701.83 525.52,701.77 526.57,701.71 527.62,701.65 528.67,701.59 529.72,701.53 530.76,701.47 531.81,701.41 532.86,701.35 533.91,701.28 534.96,701.22 536.01,701.15 537.06,701.09 538.11,701.02 539.16,700.96 540.21,700.89 541.26,700.82 542.31,700.74 543.36,700.67 544.40,700.60 545.45,700.52 546.50,700.44 547.55,700.36 548.60,700.28 549.65,700.20 550.70,700.12 551.75,700.04 552.80,699.96 553.85,699.88 554.90,699.80 555.95,699.73 556.99,699.65 558.04,699.58 559.09,699.50 560.14,699.43 561.19,699.36 562.24,699.30 563.29,699.23 564.34,699.17 565.39,699.10 566.44,699.04 567.49,698.98 568.54,698.92 569.59,698.86 570.63,698.80 571.68,698.74 572.73,698.68 573.78,698.62 574.83,698.56 575.88,698.50 576.93,698.43 577.98,698.37 579.03,698.30 580.08,698.24 581.13,698.17 582.18,698.10 583.22,698.03 584.27,697.95 585.32,697.88 586.37,697.81 587.42,697.73 588.47,697.66 589.52,697.58 590.57,697.50 591.62,697.42 592.67,697.35 593.72,697.27 594.77,697.19 595.82,697.11 596.86,697.03 597.91,696.95 598.96,696.87 600.01,696.79 601.06,696.72 602.11,696.64 603.16,696.57 604.21,696.49 605.26,696.42 606.31,696.35 607.36,696.27 608.41,696.19 609.46,696.10 610.50,695.99 611.55,695.88 612.60,695.76 613.65,695.63 614.70,695.48 615.75,695.33 616.80,695.17 617.85,695.00 618.90,694.83 619.95,694.64 621.00,694.45 622.05,694.23 623.09,693.99 624.14,693.73 625.19,693.46 626.24,693.18 627.29,692.89 628.34,692.61 629.39,692.32 630.44,692.05 631.49,691.78 632.54,691.52 633.59,691.27 634.64,691.01 635.69,690.75 636.73,690.48 637.78,690.20 638.83,689.90 639.88,689.59 640.93,689.26 641.98,688.91 643.03,688.53 644.08,688.14 645.13,687.72 646.18,687.29 647.23,686.85 648.28,686.39 649.32,685.91 650.37,685.43 651.42,684.93 652.47,684.41 653.52,683.88 654.57,683.33 655.62,682.75 656.67,682.16 657.72,681.54 658.77,680.90 659.82,680.23 660.87,679.53 661.92,678.81 662.96,678.06 664.01,677.25 665.06,676.34 666.11,675.29 667.16,673.97 668.21,672.33 669.26,670.49" fill="none" stroke="#61D04F" stroke-width="0.75" stroke-linejoin="round"/>
<polyline points="418.50,710.00 419.55,710.00 420.60,710.00 421.65,710.00 422.70,710.00 423.75,710.00 424.80,710.00 425.84,710.00 426.89,710.00 427.94,710.00 428.99,710.00 430.04,710.00 431.09,710.00 432.14,710.00 433.19,710.00 434.24,710.00 435.29,710.00 436.34,710.00 437.39,710.00 438.43,710.00 439.48,710.00 440.53,710.00 441.58,710.00 442.63,710.00 443.68,710.00 444.73,710.00 445.78,710.00 446.83,710.00 447.88,710.00 448.93,710.00 449.98,710.00 451.03,710.00 452.07,710.00 453.12,710.00 454.17,710.00 455.22,710.00 456.27,710.00 457.32,710.00 458.37,710.00 459.42,710.00 460.47,710.00 461.52,710.00 462.57,710.00 463.62,710.00 464.66,710.00 465.71,710.00 466.76,710.00 467.81,710.00 468.86,710.00 469.91,710.00 470.96,710.00 472.01,710.00 473.06,710.00 474.11,710.00 475.16,710.00 476.21,710.00 477.26,710.00 478.30,710.00 479.35,710.00 480.40,710.00 481.45,710.00 482.50,710.00 483.55,710.00 484.60,710.00 485.65,710.00 486.70,710.00 487.75,710.00 488.80,710.00 489.85,710.00 490.90,710.00 491.94,710.00 492.99,710.00 494.04,710.00 495.09,710.00 496.14,710.00 497.19,710.00 498.24,710.00 499.29,710.00 500.34,710.00 501.39,710.00 502.44,710.00 503.49,709.98 504.53,709.92 505.58,709.82 506.63,709.71 507.68,709.60 508.73,709.51 509.78,709.42 510.83,709.34 511.88,709.25 512.93,709.17 513.98,709.08 515.03,709.00 516.08,708.92 517.13,708.83 518.17,708.75 519.22,708.66 520.27,708.58 521.32,708.49 522.37,708.41 523.42,708.32 524.47,708.23 525.52,708.13 526.57,708.04 527.62,707.95 528.67,707.85 529.72,707.75 530.76,707.64 531.81,707.54 532.86,707.43 533.91,707.32 534.96,707.20 536.01,707.08 537.06,706.96 538.11,706.83 539.16,706.70 540.21,706.56 541.26,706.42 542.31,706.26 543.36,706.09 544.40,705.91 545.45,705.73 546.50,705.53 547.55,705.32 548.60,705.11 549.65,704.89 550.70,704.67 551.75,704.44 552.80,704.21 553.85,703.98 554.90,703.74 555.95,703.50 556.99,703.27 558.04,703.03 559.09,702.79 560.14,702.56 561.19,702.32 562.24,702.08 563.29,701.84 564.34,701.59 565.39,701.34 566.44,701.09 567.49,700.83 568.54,700.57 569.59,700.31 570.63,700.05 571.68,699.78 572.73,699.51 573.78,699.24 574.83,698.97 575.88,698.70 576.93,698.42 577.98,698.15 579.03,697.88 580.08,697.60 581.13,697.33 582.18,697.05 583.22,696.77 584.27,696.49 585.32,696.20 586.37,695.91 587.42,695.62 588.47,695.32 589.52,695.03 590.57,694.73 591.62,694.44 592.67,694.14 593.72,693.85 594.77,693.56 595.82,693.27 596.86,692.98 597.91,692.70 598.96,692.42 600.01,692.14 601.06,691.87 602.11,691.61 603.16,691.37 604.21,691.13 605.26,690.91 606.31,690.67 607.36,690.43 608.41,690.16 609.46,689.87 610.50,689.54 611.55,689.16 612.60,688.74 613.65,688.28 614.70,687.80 615.75,687.29 616.80,686.76 617.85,686.22 618.90,685.68 619.95,685.13 621.00,684.59 622.05,684.02 623.09,683.43 624.14,682.82 625.19,682.20 626.24,681.57 627.29,680.93 628.34,680.29 629.39,679.64 630.44,678.99 631.49,678.33 632.54,677.66 633.59,676.98 634.64,676.29 635.69,675.60 636.73,674.90 637.78,674.21 638.83,673.51 639.88,672.82 640.93,672.14 641.98,671.49 643.03,670.85 644.08,670.23 645.13,669.61 646.18,668.98 647.23,668.33 648.28,667.66 649.32,666.95 650.37,666.19 651.42,665.38 652.47,664.52 653.52,663.63 654.57,662.69 655.62,661.70 656.67,660.66 657.72,659.57 658.77,658.42 659.82,657.20 660.87,655.92 661.92,654.59 662.96,653.18 664.01,651.61 665.06,649.78 666.11,647.59 667.16,644.61 668.21,640.62 669.26,636.05" fill="none" stroke="#DF536B" stroke-width="0.75" stroke-linejoin="round"/>
<polyline points="418.50,710.00 419.55,710.00 420.60,710.00 421.65,710.00 422.70,710.00 423.75,710.00 424.80,710.00 425.84,710.00 426.89,710.00 427.94,710.00 428.99,710.00 430.04,710.00 431.09,710.00 432.14,710.00 433.19,710.00 434.24,710.00 435.29,710.00 436.34,710.00 437.39,710.00 438.43,710.00 439.48,710.00 440.53,710.00 441.58,710.00 442.63,710.00 443.68,710.00 444.73,710.00 445.78,710.00 446.83,710.00 447.88,710.00 448.93,710.00 449.98,710.00 451.03,710.00 452.07,710.00 453.12,710.00 454.17,710.00 455.22,710.00 456.27,710.00 457.32,710.00 458.37,710.00 459.42,710.00 460.47,710.00 461.52,710.00 462.57,710.00 463.62,710.00 464.66,710.00 465.71,710.00 466.76,710.00 467.81,710.00 468.86,710.00 469.91,710.00 470.96,710.00 472.01,710.00 473.06,710.00 474.11,710.00 475.16,710.00 476.21,710.00 477.26,710.00 478.30,710.00 479.35,710.00 480.40,710.00 481.45,710.00 482.50,710.00 483.55,710.00 484.60,710.00 485.65,710.00 486.70,710.00 487.75,710.00 488.80,710.00 489.85,710.00 490.90,710.00 491.94,710.00 492.99,710.00 494.04,710.00 495.09,710.00 496.14,710.00 497.19,710.00 498.24,710.00 499.29,710.00 500.34,710.00 501.39,710.00 502.44,710.00 503.49,710.00 504.53,710.00 505.58,710.00 506.63,710.00 507.68,710.00 508.73,710.00 509.78,710.00 510.83,710.00 511.88,710.00 512.93,710.00 513.98,710.00 515.03,710.00 516.08,710.00 517.13,710.00 518.17,710.00 519.22,710.00 520.27,710.00 521.32,710.00 522.37,710.00 523.42,710.00 524.47,710.00 525.52,710.00 526.57,710.00 527.62,710.00 528.67,710.00 529.72,710.00 530.76,710.00 531.81,710.00 532.86,710.00 533.91,709.98 534.96,709.97 536.01,709.95 537.06,709.93 538.11,709.90 539.16,709.88 540.21,709.85 541.26,709.82 542.31,709.78 543.36,709.74 544.40,709.70 545.45,709.65 546.50,709.59 547.55,709.53 548.60,709.47 549.65,709.40 550.70,709.33 551.75,709.26 552.80,709.19 553.85,709.11 554.90,709.03 555.95,708.95 556.99,708.86 558.04,708.78 559.09,708.69 560.14,708.61 561.19,708.52 562.24,708.42 563.29,708.32 564.34,708.21 565.39,708.10 566.44,707.98 567.49,707.85 568.54,707.73 569.59,707.59 570.63,707.46 571.68,707.32 572.73,707.18 573.78,707.04 574.83,706.90 575.88,706.76 576.93,706.61 577.98,706.47 579.03,706.33 580.08,706.19 581.13,706.06 582.18,705.92 583.22,705.78 584.27,705.65 585.32,705.51 586.37,705.37 587.42,705.23 588.47,705.09 589.52,704.95 590.57,704.80 591.62,704.66 592.67,704.52 593.72,704.37 594.77,704.22 595.82,704.08 596.86,703.93 597.91,703.78 598.96,703.63 600.01,703.48 601.06,703.33 602.11,703.18 603.16,703.04 604.21,702.90 605.26,702.75 606.31,702.60 607.36,702.45 608.41,702.28 609.46,702.09 610.50,701.89 611.55,701.65 612.60,701.39 613.65,701.11 614.70,700.80 615.75,700.49 616.80,700.17 617.85,699.84 618.90,699.52 619.95,699.21 621.00,698.90 622.05,698.60 623.09,698.29 624.14,697.98 625.19,697.67 626.24,697.35 627.29,697.03 628.34,696.71 629.39,696.37 630.44,696.04 631.49,695.69 632.54,695.35 633.59,694.99 634.64,694.64 635.69,694.27 636.73,693.90 637.78,693.52 638.83,693.13 639.88,692.73 640.93,692.32 641.98,691.91 643.03,691.48 644.08,691.05 645.13,690.61 646.18,690.16 647.23,689.69 648.28,689.20 649.32,688.69 650.37,688.17 651.42,687.62 652.47,687.06 653.52,686.47 654.57,685.87 655.62,685.23 656.67,684.57 657.72,683.88 658.77,683.14 659.82,682.37 660.87,681.55 661.92,680.69 662.96,679.77 664.01,678.74 665.06,677.57 666.11,676.22 667.16,674.51 668.21,672.34 669.26,669.91" fill="none" stroke="#CD0BBC" stroke-width="0.75" stroke-linejoin="round"/>
<text x="674.40" y="638.90" font-size="6.3" text-anchor="middle" fill="#000">2</text>
<text x="674.40" y="663.80" font-size="6.3" text-anchor="middle" fill="#000">1</text>
<text x="674.40" y="672.00" font-size="6.3" text-anchor="middle" fill="#000">3</text>
<text x="674.40" y="676.70" font-size="6.3" text-anchor="middle" fill="#000">6</text>
<text x="674.40" y="741.50" font-size="6.3" text-anchor="middle" fill="#000">5</text>
<text x="674.40" y="754.10" font-size="6.3" text-anchor="middle" fill="#000">4</text>
</svg>
</body></html>
